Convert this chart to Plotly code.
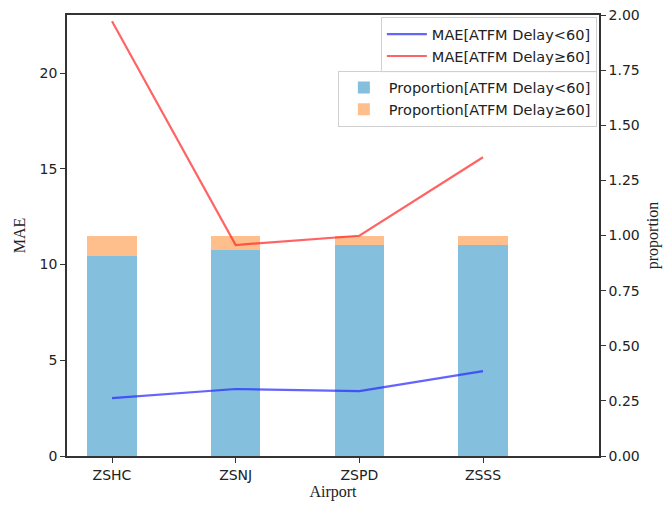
import plotly.graph_objects as go

# Airports and per-airport results
airports = ["ZSHC", "ZSNJ", "ZSPD", "ZSSS"]
mae_short = [3.02, 3.50, 3.39, 4.43]      # MAE for ATFM delay < 60
mae_long = [22.7, 11.02, 11.5, 15.6]      # MAE for ATFM delay >= 60
prop_short = [0.907, 0.933, 0.955, 0.957]  # share of flights with delay < 60
prop_long = [1 - p for p in prop_short]    # remaining share (delay >= 60)

TICK_FONT = dict(family="DejaVu Sans", size=14, color="#222222")
TITLE_FONT = dict(family="Liberation Serif", size=16, color="#222222")
AXIS_COLOR = "#333333"

fig = go.Figure()

# Stacked proportion bars (right-hand axis)
fig.add_trace(go.Bar(
    x=airports, y=prop_short, name="Proportion[ATFM Delay<60]",
    marker=dict(color="#84bfde", line=dict(width=0)), width=0.4,
    yaxis="y", legend="legend2",
))
fig.add_trace(go.Bar(
    x=airports, y=prop_long, name="Proportion[ATFM Delay≥60]",
    marker=dict(color="#ffbf8c", line=dict(width=0)), width=0.4,
    yaxis="y", legend="legend2",
))

# MAE lines (left-hand axis, drawn above the bars)
fig.add_trace(go.Scatter(
    x=airports, y=mae_short, mode="lines", name="MAE[ATFM Delay<60]",
    line=dict(color="rgba(40,40,255,0.72)", width=2.2), yaxis="y2", legend="legend",
))
fig.add_trace(go.Scatter(
    x=airports, y=mae_long, mode="lines", name="MAE[ATFM Delay≥60]",
    line=dict(color="rgba(255,40,40,0.72)", width=2.2), yaxis="y2", legend="legend",
))

legend_style = dict(
    font=dict(family="DejaVu Sans", size=14.5, color="#222222"),
    bgcolor="rgba(255,255,255,0.85)", bordercolor="#d0d0d0", borderwidth=1,
    xanchor="right", yanchor="top", tracegroupgap=0, itemwidth=40,
    traceorder="normal",
)

fig.update_layout(
    width=664, height=506,
    margin=dict(l=67, r=65, t=15, b=50, autoexpand=False),
    paper_bgcolor="white", plot_bgcolor="white",
    barmode="stack", bargap=0.6,
    showlegend=True,
    xaxis=dict(
        range=[-0.364, 3.938], automargin=False,
        showline=True, linecolor=AXIS_COLOR, linewidth=1.5, mirror=True,
        ticks="outside", ticklen=5, tickcolor=AXIS_COLOR, tickwidth=1.2,
        tickfont=TICK_FONT, showgrid=False, zeroline=False,
        title=dict(text="Airport", font=TITLE_FONT, standoff=4),
    ),
    yaxis=dict(
        side="right", range=[0, 2.0], dtick=0.25, tickformat=".2f", automargin=False,
        showline=True, linecolor=AXIS_COLOR, linewidth=1.5,
        ticks="outside", ticklen=5, tickcolor=AXIS_COLOR, tickwidth=1.2,
        tickfont=TICK_FONT, showgrid=False, zeroline=False,
        title=dict(text="proportion", font=TITLE_FONT, standoff=8),
    ),
    yaxis2=dict(
        side="left", overlaying="y", range=[0, 23.03], dtick=5, automargin=False,
        showline=True, linecolor=AXIS_COLOR, linewidth=1.5,
        ticks="outside", ticklen=5, tickcolor=AXIS_COLOR, tickwidth=1.2,
        tickfont=TICK_FONT, showgrid=False, zeroline=False,
        title=dict(text="MAE", font=TITLE_FONT, standoff=10),
    ),
    legend=dict(x=0.996, y=0.995, **legend_style),
    legend2=dict(x=0.996, y=0.874, **legend_style),
)

fig.write_html("out.html")
